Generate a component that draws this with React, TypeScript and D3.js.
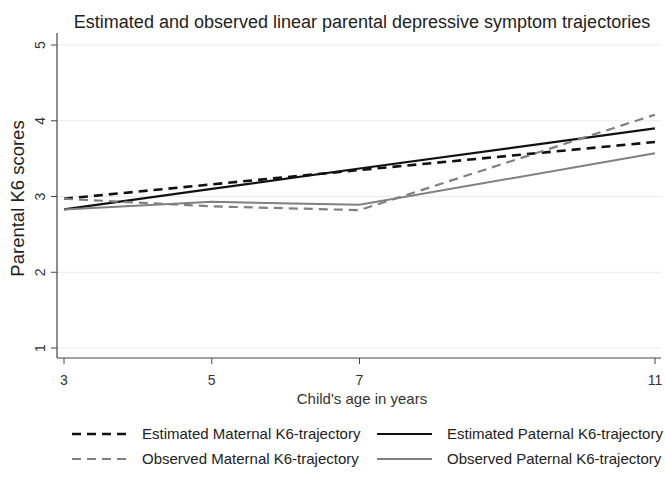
import React from "react";
import * as d3 from "d3";

const ages = [3, 5, 7, 11];
const estMaternal = [2.97, 3.16, 3.35, 3.72];
const estPaternal = [2.83, 3.10, 3.37, 3.90];
const obsMaternal = [2.97, 2.87, 2.82, 4.08];
const obsPaternal = [2.83, 2.93, 2.89, 3.57];
const yTicks = [1, 2, 3, 4, 5];
const xTicks = [3, 5, 7, 11];

const seriesList = [
  { name: "Estimated Maternal K6-trajectory", values: estMaternal, color: "#111", dash: "9,6", width: 2.6 },
  { name: "Estimated Paternal K6-trajectory", values: estPaternal, color: "#111", dash: "", width: 2.2 },
  { name: "Observed Maternal K6-trajectory", values: obsMaternal, color: "#808080", dash: "9,6", width: 2.2 },
  { name: "Observed Paternal K6-trajectory", values: obsPaternal, color: "#808080", dash: "", width: 2 },
];

export default function App() {
  const W = 665, H = 481;
  const x = d3.scaleLinear().domain([3, 11]).range([64, 655]);
  const y = d3.scaleLinear().domain([1, 5]).range([348, 45]);
  const line = d3.line<number>().x((_, i) => x(ages[i])).y((d) => y(d));
  const font = "'Liberation Sans', Arial, sans-serif";
  const axL = 57, axR = 661, axT = 33, axB = 358;
  const legendPos = [
    { lx: 72, ly: 434 },
    { lx: 377, ly: 434 },
    { lx: 72, ly: 459 },
    { lx: 377, ly: 459 },
  ];
  return (
    <svg width={W} height={H} style={{ position: "absolute", left: 0, top: 0, background: "#fff" }} fontFamily={font}>
      <rect x={0} y={0} width={W} height={H} fill="#fff" />
      <text x={362} y={28} textAnchor="middle" fontSize={18} fill="#222">
        Estimated and observed linear parental depressive symptom trajectories
      </text>
      {yTicks.map((t) => (
        <g key={t}>
          <line x1={axL} x2={axR} y1={y(t)} y2={y(t)} stroke="#ebebeb" strokeWidth={1.2} />
          <line x1={51} x2={axL} y1={y(t)} y2={y(t)} stroke="#444" strokeWidth={1} />
          <text x={45} y={y(t)} fontSize={14} fill="#333" textAnchor="middle" transform={`rotate(-90,45,${y(t)})`}>
            {t}
          </text>
        </g>
      ))}
      <line x1={axL} x2={axL} y1={axT} y2={axB} stroke="#444" strokeWidth={1.2} />
      <line x1={axL} x2={axR} y1={axB} y2={axB} stroke="#444" strokeWidth={1.2} />
      {xTicks.map((t) => (
        <g key={t}>
          <line x1={x(t)} x2={x(t)} y1={axB} y2={axB + 6} stroke="#444" strokeWidth={1} />
          <text x={x(t)} y={axB + 27} fontSize={14} fill="#333" textAnchor="middle">
            {t}
          </text>
        </g>
      ))}
      <text x={362} y={404} fontSize={15} fill="#333" textAnchor="middle">
        Child's age in years
      </text>
      <text x={0} y={0} fontSize={18.5} fill="#222" textAnchor="middle" transform={`translate(24,${(axT + axB) / 2 + 3}) rotate(-90)`}>
        Parental K6 scores
      </text>
      {seriesList.map((s) => (
        <path key={s.name} d={line(s.values) || ""} fill="none" stroke={s.color} strokeWidth={s.width} strokeDasharray={s.dash} />
      ))}
      {seriesList.map((s, i) => {
        const p = legendPos[i];
        return (
          <g key={"lg" + s.name}>
            <line x1={p.lx} x2={p.lx + 55} y1={p.ly} y2={p.ly} stroke={s.color} strokeWidth={s.width} strokeDasharray={s.dash} />
            <text x={p.lx + 70} y={p.ly + 5} fontSize={15} fill="#222">
              {s.name}
            </text>
          </g>
        );
      })}
    </svg>
  );
}
